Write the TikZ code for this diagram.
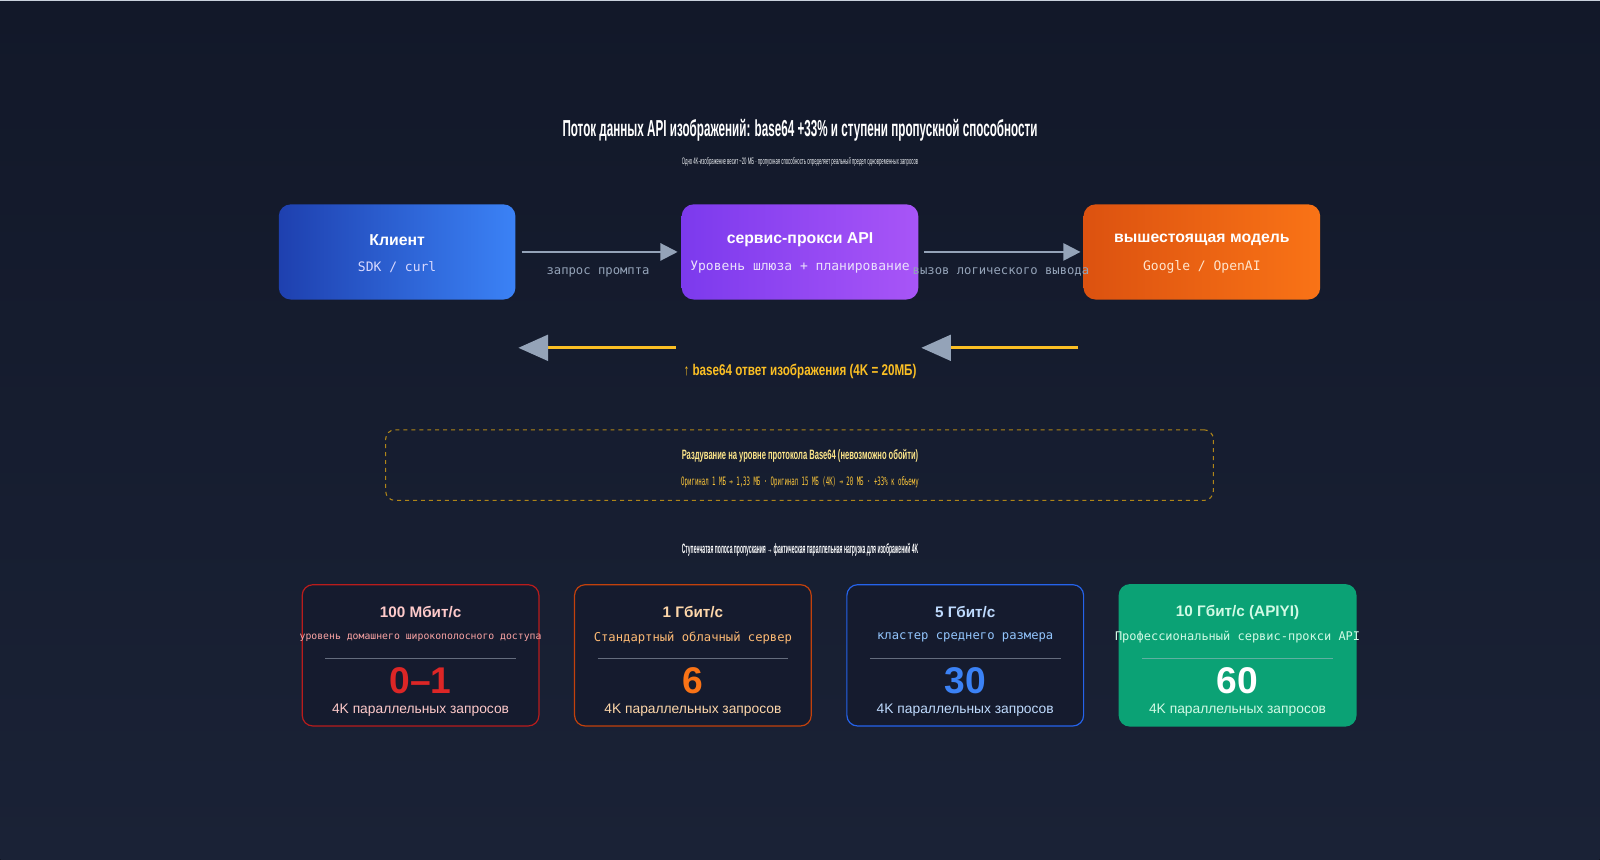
\documentclass[tikz,border=0pt]{standalone}
\usepackage{fontspec}
\setmainfont{Liberation Sans}
\setsansfont{Liberation Sans}
\setmonofont{DejaVu Sans Mono}
\usetikzlibrary{arrows.meta}
\definecolor{bgA}{HTML}{1A2236}
\definecolor{bgB}{HTML}{121829}
\definecolor{cardbg}{HTML}{151B2E}
\definecolor{gr}{HTML}{94A3B8}
\definecolor{yl}{HTML}{FBBF24}
\definecolor{ylt}{HTML}{FDE68A}
\definecolor{clA}{HTML}{1E40AF}\definecolor{clB}{HTML}{3B82F6}
\definecolor{pxA}{HTML}{7C3AED}\definecolor{pxB}{HTML}{A855F7}
\definecolor{upA}{HTML}{DC5210}\definecolor{upB}{HTML}{F97316}
\definecolor{rB}{HTML}{B91C1C}\definecolor{rN}{HTML}{DC2626}\definecolor{rT}{HTML}{FECACA}\definecolor{rS}{HTML}{FCA5A5}
\definecolor{oB}{HTML}{C2410C}\definecolor{oN}{HTML}{F97316}\definecolor{oT}{HTML}{FED7AA}\definecolor{oS}{HTML}{FDBA74}
\definecolor{bB}{HTML}{2563EB}\definecolor{bN}{HTML}{3B82F6}\definecolor{bT}{HTML}{BFDBFE}\definecolor{bS}{HTML}{93C5FD}
\definecolor{gB}{HTML}{059669}\definecolor{gF}{HTML}{0BA275}\definecolor{gT}{HTML}{D1FAE5}\definecolor{gS}{HTML}{D1FAE5}
\begin{document}
\begin{tikzpicture}[x=0.7653bp,y=-0.7653bp,
 top/.style={rounded corners=9bp,minimum width=177.6bp,minimum height=71.4bp,inner sep=0pt},
 flow/.style={draw=gr,line width=1.6pt,-{Triangle[length=13pt,width=13pt]}},
 back/.style={draw=yl,line width=2.2pt},
 tip/.style={fill=gr,draw=none},
 card/.style={rounded corners=8bp,minimum width=177.6bp,minimum height=106bp,inner sep=0pt,line width=0.9pt},
 lbl/.style={font=\ttfamily\fontsize{9.2}{10}\selectfont,text=gr}]
\fill[top color=bgB,bottom color=bgA] (0,0) rectangle (1568,842.7);
\draw[gr!50,line width=0.5pt] (0,0.5) -- (1568,0.5);
\useasboundingbox (0,0) rectangle (1568,842.7);
% title
\node (title) at (784,128) {\scalebox{0.505}[1]{\fontsize{17.4}{20}\selectfont\bfseries\color{white}Поток данных API изображений: base64 +33\% и ступени пропускной способности}};
\node (sub) at (784,159) {\scalebox{0.45}[1]{\fontsize{7.1}{8}\selectfont\color{white!80!gr}Одно 4K-изображение весит \textasciitilde20 МБ · пропускная способность определяет реальный предел одновременных запросов}};
% top boxes
\node[top,left color=clA,right color=clB] (cl) at (389,247) {};
\node[font=\bfseries\fontsize{11.9}{13}\selectfont,white] (clt) at (389,235) {Клиент};
\node[font=\ttfamily\fontsize{9.8}{11}\selectfont,white!85!blue] (cls) at (389,262) {SDK / curl};
\node[top,left color=pxA,right color=pxB] (px) at (784,247) {};
\node[font=\bfseries\fontsize{11.9}{13}\selectfont,white] (pxt) at (784,235) {сервис-прокси API};
\node[font=\ttfamily\fontsize{9.8}{11}\selectfont,white!85!pxA] (pxs) at (784,262) {Уровень шлюза + планирование};
\node[top,left color=upA,right color=upB] (up) at (1178,247) {};
\node[font=\bfseries\fontsize{11.9}{13}\selectfont,white] (upt) at (1178,235) {вышестоящая модель};
\node[font=\ttfamily\fontsize{9.8}{11}\selectfont,white!80!orange] (ups) at (1178,262) {Google / OpenAI};
\coordinate (a1s) at (511,247); \coordinate (a1e) at (664,247);
\coordinate (a2s) at (906,247); \coordinate (a2e) at (1059,247);
\draw[flow] (a1s) -- (a1e);
\draw[flow] (a2s) -- (a2e);
\node[lbl] (l1) at (586,267) {запрос промпта};
\node[lbl] (l2) at (981,267) {вызов логического вывода};
% back arrows
\coordinate (b1s) at (662,341); \coordinate (b1e) at (535,341);
\coordinate (b2s) at (1057,341); \coordinate (b2e) at (930,341);
\draw[back] (b1s) -- (b1e); \draw[back] (b2s) -- (b2e);
\fill[tip] (508,341) -- (537,328) -- (537,354) -- cycle;
\fill[tip] (903,341) -- (932,328) -- (932,354) -- cycle;
\node (bt) at (784,364) {\scalebox{0.75}[1]{\fontsize{11.7}{13}\selectfont\bfseries\color{yl}↑ base64 ответ изображения (4K = 20МБ)}};
% dashed box
\node[draw=yl!70!black,dashed,line width=0.8pt,rounded corners=7pt,minimum width=621bp,minimum height=53bp] (db) at (783.5,456) {};
\node (d1) at (784,447) {\scalebox{0.56}[1]{\fontsize{10.2}{11}\selectfont\bfseries\color{ylt}Раздувание на уровне протокола Base64 (невозможно обойти)}};
\node (d2) at (784,473) {\scalebox{0.495}[1]{\ttfamily\fontsize{8.7}{10}\selectfont\color{yl!90!white}Оригинал 1 МБ → 1,33 МБ · Оригинал 15 МБ (4K) → 20 МБ · +33\% к объему}};
\node (tl) at (784,539) {\scalebox{0.37}[1]{\fontsize{10.2}{11}\selectfont\bfseries\color{white}Ступенчатая полоса пропускания → фактическая параллельная нагрузка для изображений 4K}};
% cards
\foreach \n/\cx/\bd/\fl/\tc/\sc/\nc/\tt/\st/\num/\k in {
 c1/412/rB/cardbg/rT/rS/rN/{100 Мбит/с}/{уровень домашнего широкополосного доступа}/{0–1}/0.9,
 c2/679/oB/cardbg/oT/oS/oN/{1 Гбит/с}/{Стандартный облачный сервер}/6/1.12,
 c3/946/bB/cardbg/bT/bS/bN/{5 Гбит/с}/{кластер среднего размера}/30/1.12,
 c4/1213/gF/gF/gT/gS/white/{10 Гбит/с (APIYI)}/{Профессиональный сервис-прокси API}/60/1.1}{
 \node[card,draw=\bd,fill=\fl] (\n) at (\cx,642.5) {};
 \node[font=\bfseries\fontsize{11.5}{13}\selectfont,text=\tc] (\n t) at (\cx,600) {\tt};
 \node[font=\ttfamily\fontsize{8.2}{10}\selectfont,text=\sc,inner sep=0pt] (\n s) at (\cx,625) {\scalebox{\k}{\st}};
 \draw[white!30!gr,opacity=0.5,line width=0.6pt] ([xshift=-71.5bp]\cx,645) -- ([xshift=71.5bp]\cx,645);
 \node[font=\bfseries\fontsize{28}{30}\selectfont,text=\nc] (\n n) at (\cx,667) {\num};
 \node[font=\fontsize{10.4}{12}\selectfont,text=\tc] (\n b) at (\cx,696) {4K параллельных запросов};
}
\end{tikzpicture}
\end{document}
